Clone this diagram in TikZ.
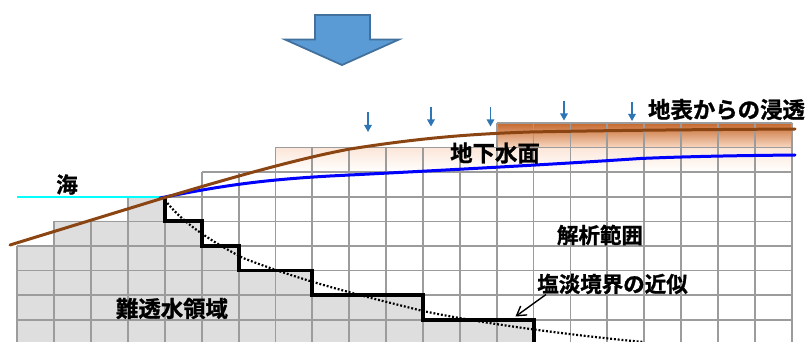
\documentclass[tikz,border=0pt]{standalone}
\usepackage{fontspec}
\newfontfamily\jpfont{Noto Sans CJK JP Bold}[FakeBold=1.2]
\usetikzlibrary{arrows.meta}
\definecolor{gridgray}{HTML}{9C9C9C}
\definecolor{rockgray}{HTML}{DEDEDE}
\definecolor{bigfill}{HTML}{5B9BD5}
\definecolor{bigedge}{HTML}{41719C}
\definecolor{rainblue}{HTML}{2E75B6}
\definecolor{soilbrown}{HTML}{8B4513}
\definecolor{seacyan}{HTML}{00FFFF}
\definecolor{wetdark}{HTML}{C5682C}
\definecolor{wetmid}{HTML}{F8D8C2}
\definecolor{wetpale}{HTML}{FCE6D9}
\tikzset{
  x=1pt,y=-1pt,
  gridline/.style={draw=gridgray,line width=1.7pt},
  label/.style={font=\jpfont\fontsize{21.5}{21.5}\selectfont,text=black,inner sep=0pt},
  widelabel/.style={font=\jpfont\fontsize{22.4}{22.4}\selectfont,text=black,inner sep=0pt},
  rain/.style={draw=rainblue,line width=1.3pt,-{Triangle[length=7pt,width=7.5pt]}},
  stair/.style={draw=black,line width=3.6pt,line join=miter},
  table/.style={line width=3pt,line cap=round},
}
\begin{document}
\begin{tikzpicture}
\useasboundingbox (0,0) rectangle (807,342);
% low-permeability ground
\fill[rockgray] (17,342) -- (17,246) -- (54,246) -- (54,221) -- (128,221) -- (128,197)
  -- (165,197) -- (165,221) -- (202,221) -- (202,246) -- (239,246) -- (239,270.6)
  -- (312,270.6) -- (312,295.2) -- (423,295.2) -- (423,319.8) -- (534,319.8) -- (534,342) -- cycle;
% infiltration shading
\shade[top color=wetdark,bottom color=wetmid] (497,123) rectangle (792,147.6);
\shade[top color=wetpale,bottom color=white] (275,147.6) rectangle (792,172.2);
% analysis mesh: horizontal rules
\draw[gridline] (497,123) -- (792,123);
\draw[gridline] (275,147.6) -- (792,147.6);
\draw[gridline] (202,172.2) -- (792,172.2);
\draw[gridline] (128,196.8) -- (792,196.8);
\draw[gridline] (54,221.4) -- (792,221.4);
\foreach \y in {246,270.6,295.2,319.8} \draw[gridline] (17,\y) -- (792,\y);
% analysis mesh: vertical rules, each with its own top
\foreach \x/\t in {17/246,54/221.4,91/221.4,128/196.8,165/196.8,202/172.2,239/172.2,
  275.5/147.6,312/147.6,349/147.6,386/147.6,423/147.6,460/147.6,
  497/123,533.5/123,570.5/123,607/123,644/123,681/123,718/123,755/123,792/123}
  \draw[gridline] (\x,\t) -- (\x,342);
% sea level
\draw[seacyan,line width=1.8pt] (17,197) -- (165,197);
% approximate salt-water boundary
\draw[black,line width=2.2pt,dash pattern=on 1.9pt off 1.9pt]
  (165,200) .. controls (180,220) and (205,238) .. (243,258)
  .. controls (300,280) and (350,293) .. (423,311)
  .. controls (480,323) and (560,334) .. (643,342);
% stepped boundary of the model
\draw[stair] (165,197) -- (165,221) -- (202,221) -- (202,246) -- (239,246) -- (239,270.6)
  -- (312,270.6) -- (312,295.2) -- (423,295.2) -- (423,319.8) -- (534,319.8) -- (534,342);
% water table and ground surface
\draw[table,blue] (160,198) .. controls (220,186) and (260,180) .. (330,176)
  .. controls (430,171) and (560,164) .. (640,158.5) .. controls (700,156) and (750,155.5) .. (795,155);
\draw[table,soilbrown] (10,245) -- (160,199) .. controls (200,187) and (290,160) .. (350,149)
  .. controls (420,138) and (470,134) .. (530,132) .. controls (630,130) and (720,129.5) .. (795,129);
% large downward arrow
\draw[bigedge,fill=bigfill,line width=1.8pt,line join=miter]
  (315,15) -- (370,15) -- (370,39.5) -- (399,39.5) -- (342,65) -- (285,39.5) -- (315,39.5) -- cycle;
% infiltration arrows
\foreach \n/\x/\a/\b in {a/368/112/132,b/431/107/126.5,c/490.5/107/126.5,d/564/101/120.5,e/632/102/121}{
  \coordinate (r\n s) at (\x,\a);
  \coordinate (r\n e) at (\x,\b);
  \draw[rain] (r\n s) -- (r\n e);
}
% labels
\node[label] (sea) at (67,184.5) {海};
\node[widelabel] (rock) at (172,308.5) {難透水領域};
\node[widelabel] (wt) at (495,153) {地下水面};
\node[widelabel] (inf) at (726.5,109.5) {地表からの浸透};
\node[label] (range) at (600,235) {解析範囲};
\node[label] (salt) at (612.5,284) {塩淡境界の近似};
\coordinate (salttip) at (515.5,316.5);
\coordinate (saltfoot) at (546,294.5);
\draw[black,line width=1.4pt,-{Straight Barb[length=9pt,width=11pt]}] (saltfoot) -- (salttip);
\end{tikzpicture}
\end{document}
